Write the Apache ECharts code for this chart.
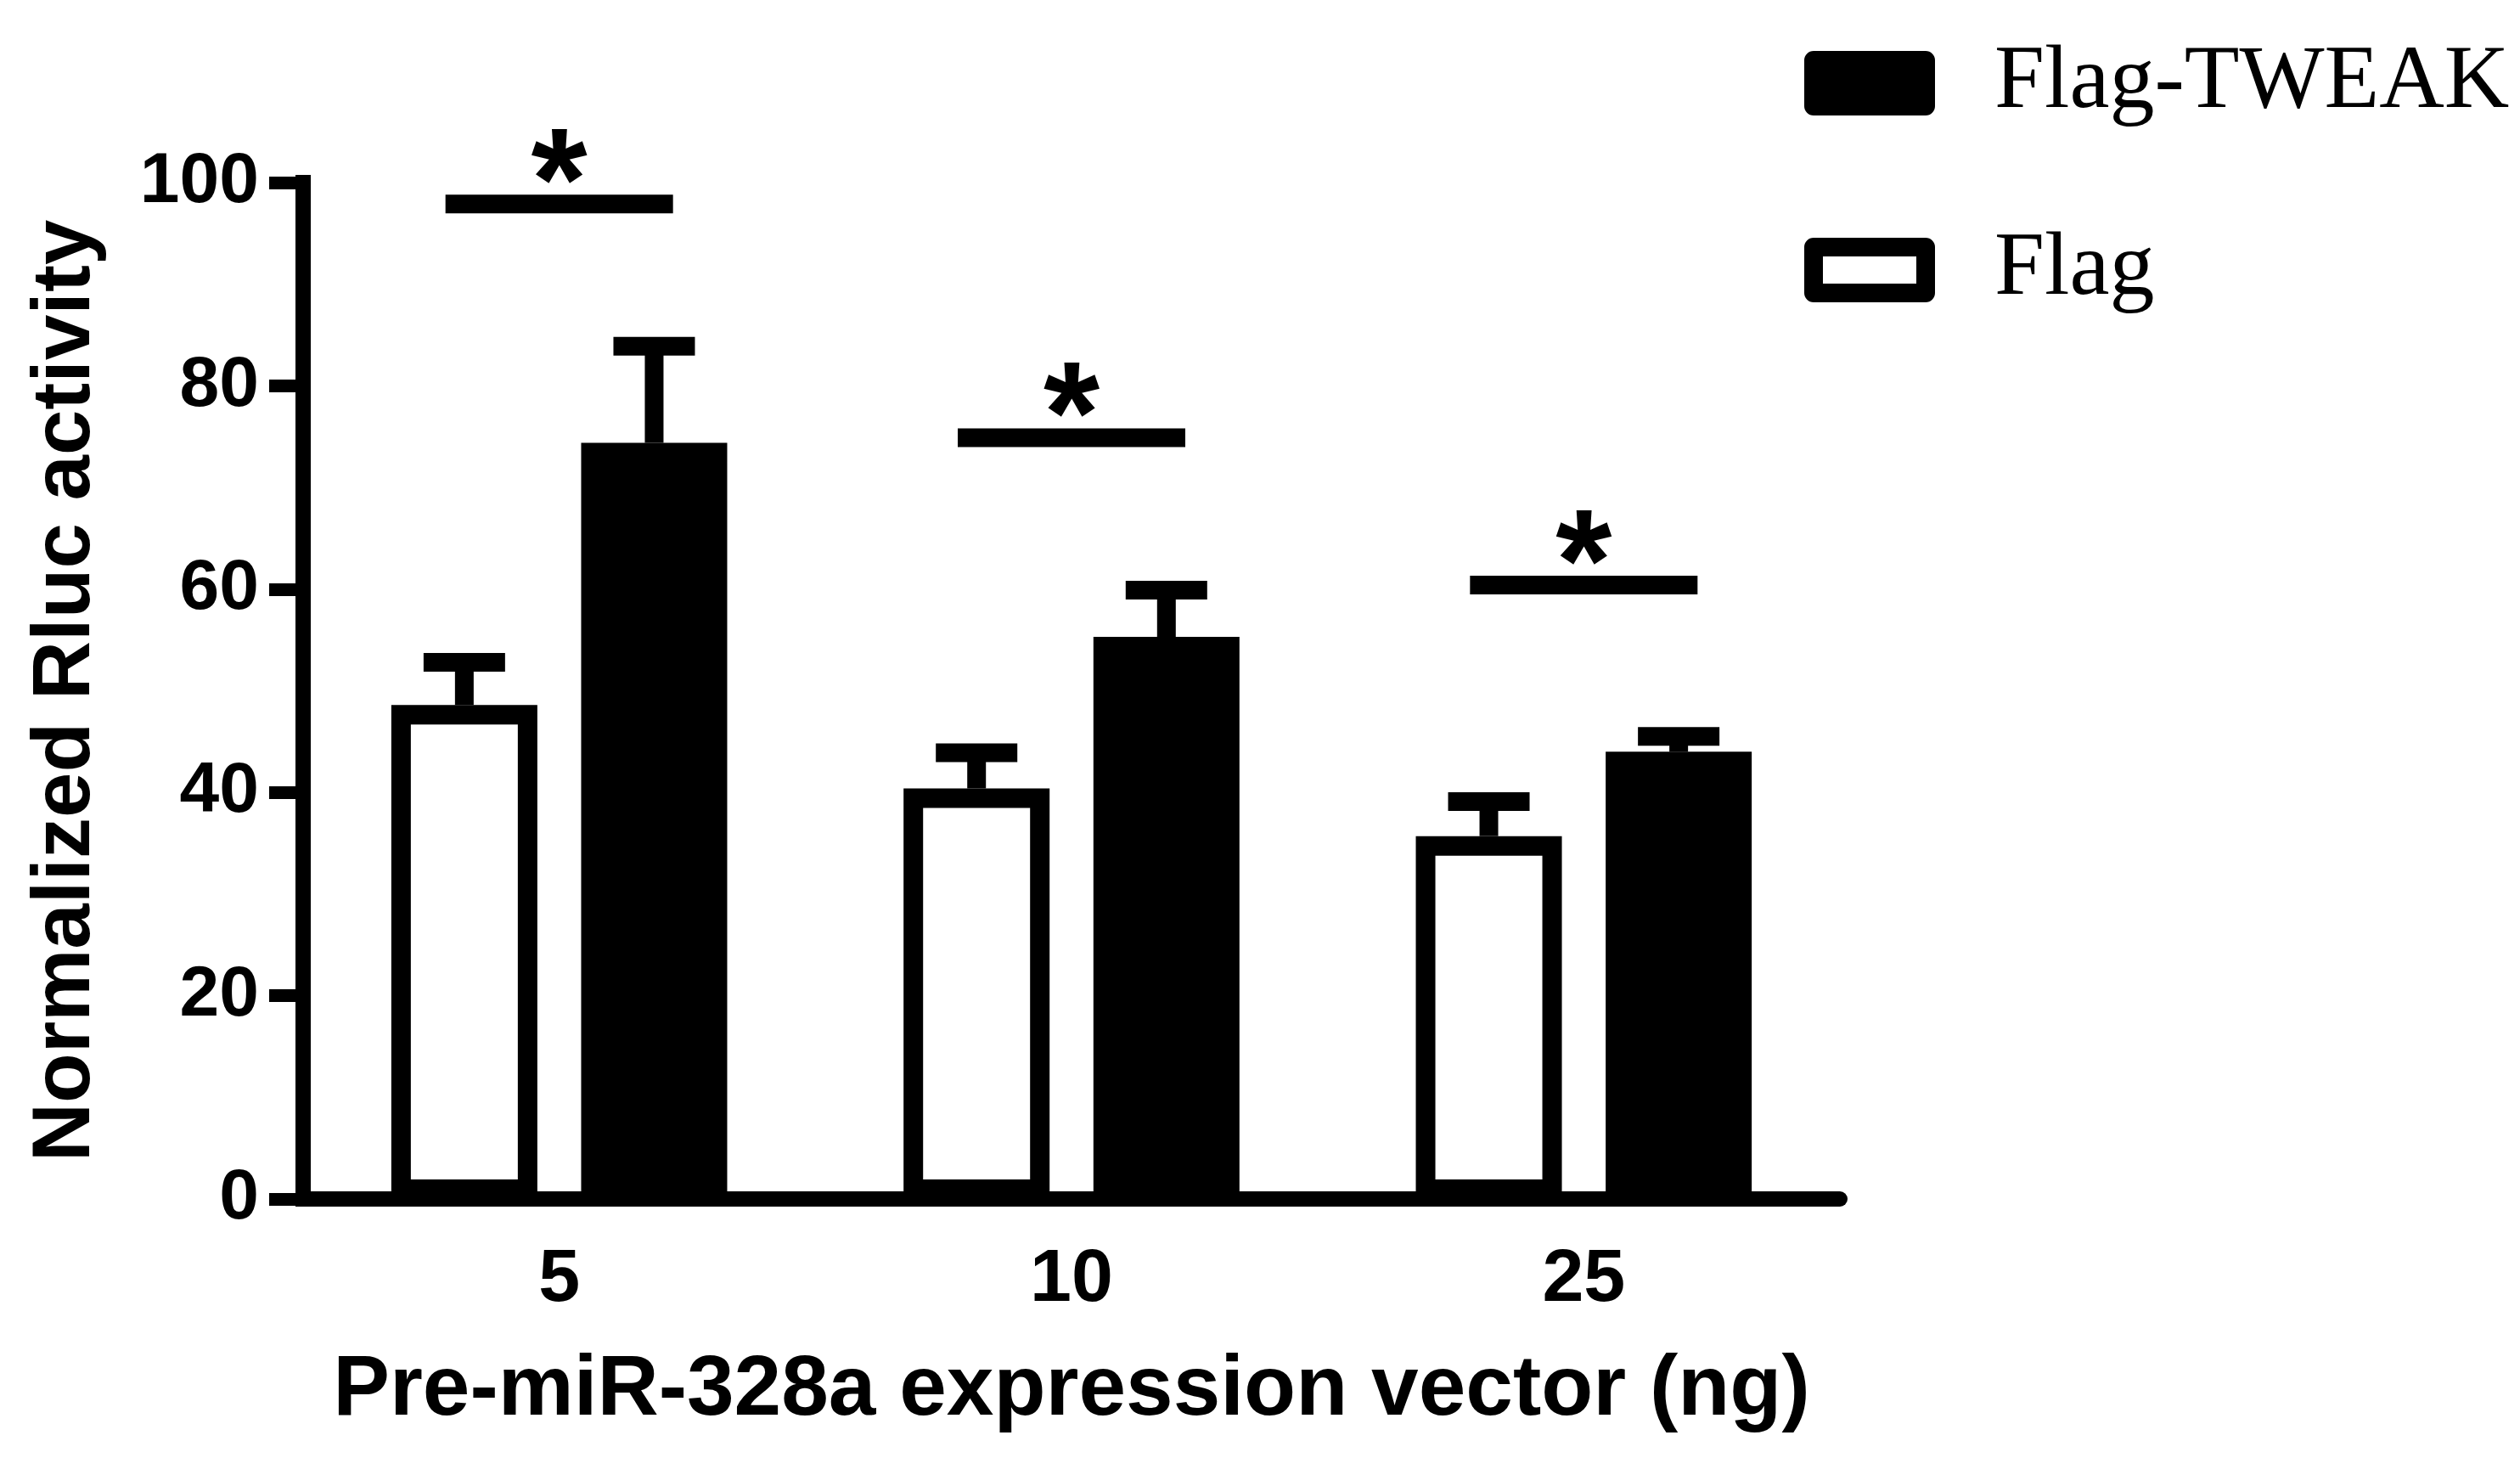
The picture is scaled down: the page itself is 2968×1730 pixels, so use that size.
<!DOCTYPE html>
<html>
<head>
<meta charset="utf-8">
<title>Normalized Rluc activity</title>
<script src="https://cdn.jsdelivr.net/npm/echarts@6/dist/echarts.min.js"></script>
<style>
  html, body { margin: 0; padding: 0; background: #fff; }
  #chart { width: 2968px; height: 1730px; }
</style>
</head>
<body>
<div id="chart"></div>
<script>
// values
const doses = ["5", "10", "25"];
const flagMean = [48.6, 40.4, 35.7];
const flagErr = [4.2, 3.5, 3.4];
const tweakMean = [74.4, 55.3, 44.0];
const tweakErr = [9.5, 4.6, 1.5];
const sigLevel = [97.9, 74.9, 60.4];
const sigMark = ["*", "*", "*"];

const BAR_W = 172;
const BORDER = 23;
const GAP = 0.3;
const sans = "Liberation Sans";

const chart = echarts.init(document.getElementById("chart"));

// upper error bar (stem + cap), shifted onto its bar
const errorBar = (side) => (params, api) => {
  const top = api.coord([api.value(0), api.value(1)]);
  const base = api.coord([api.value(0), api.value(2)]);
  const x = top[0] + side * (BAR_W * (1 + GAP)) / 2;
  const style = { fill: "#000" };
  return {
    type: "group",
    children: [
      { type: "rect", shape: { x: x - 11, y: top[1], width: 22, height: base[1] - top[1] }, style },
      { type: "rect", shape: { x: x - 48, y: top[1] - 11, width: 96, height: 22 }, style },
    ],
  };
};

const sigBar = (params, api) => {
  const p = api.coord([api.value(0), api.value(1)]);
  return {
    type: "group",
    children: [
      { type: "rect", shape: { x: p[0] - 134, y: p[1] - 11, width: 268, height: 22 }, style: { fill: "#000" } },
      {
        type: "text",
        x: p[0],
        y: p[1] - 17,
        style: {
          text: sigMark[params.dataIndex],
          font: `bold 170px "${sans}"`,
          fill: "#000",
          align: "center",
          verticalAlign: "middle",
        },
      },
    ],
  };
};

const option = {
  animation: false,
  backgroundColor: "#fff",
  grid: { left: 357, right: 801, top: 215, bottom: 318, containLabel: false },
  legend: {
    orient: "vertical",
    left: 2120,
    top: 38,
    itemWidth: 132,
    itemHeight: 54,
    itemGap: 110,
    icon: "rect",
    selectedMode: false,
    itemStyle: { borderColor: "#000", borderWidth: 22, borderJoin: "round" },
    textStyle: {
      fontFamily: "Liberation Serif",
      fontSize: 106,
      lineHeight: 110,
      color: "#000",
      padding: [0, 0, 0, 76],
    },
    data: [
      { name: "Flag-TWEAK", itemStyle: { color: "#000" } },
      { name: "Flag", itemStyle: { color: "#fff" } },
    ],
  },
  xAxis: {
    type: "category",
    data: doses,
    z: 5,
    name: "Pre-miR-328a expression vector (ng)",
    nameLocation: "middle",
    nameGap: 176,
    nameTextStyle: { fontFamily: sans, fontWeight: "bold", fontSize: 100, color: "#000" },
    axisLine: { lineStyle: { color: "#000", width: 18 } },
    axisTick: { alignWithLabel: true, length: 38, lineStyle: { color: "#000", width: 15 } },
    axisLabel: { margin: 52, fontFamily: sans, fontWeight: "bold", fontSize: 88, color: "#000" },
  },
  yAxis: {
    type: "value",
    min: 0,
    max: 100,
    interval: 20,
    name: "Normalized Rluc activity",
    nameLocation: "middle",
    nameGap: 230,
    nameTextStyle: { fontFamily: sans, fontWeight: "bold", fontSize: 96, color: "#000" },
    splitLine: { show: false },
    axisLine: { show: true, lineStyle: { color: "#000", width: 18, cap: "square" } },
    axisTick: { show: true, length: 40, lineStyle: { color: "#000", width: 15 } },
    axisLabel: { margin: 52, fontFamily: sans, fontWeight: "bold", fontSize: 84, color: "#000" },
  },
  series: [
    {
      name: "Flag",
      type: "bar",
      data: flagMean,
      barWidth: BAR_W,
      barGap: GAP * 100 + "%",
      itemStyle: { color: "#fff", borderColor: "#000", borderWidth: BORDER },
    },
    {
      name: "Flag-TWEAK",
      type: "bar",
      data: tweakMean,
      barWidth: BAR_W,
      barGap: GAP * 100 + "%",
      itemStyle: { color: "#000", borderColor: "#000", borderWidth: BORDER },
    },
    {
      type: "custom",
      renderItem: errorBar(-1),
      data: flagMean.map((m, i) => [i, m + flagErr[i], m]),
      z: 3,
    },
    {
      type: "custom",
      renderItem: errorBar(1),
      data: tweakMean.map((m, i) => [i, m + tweakErr[i], m]),
      z: 3,
    },
    {
      type: "custom",
      renderItem: sigBar,
      data: sigLevel.map((v, i) => [i, v]),
      z: 3,
    },
  ],
};

chart.setOption(option);
</script>
</body>
</html>
